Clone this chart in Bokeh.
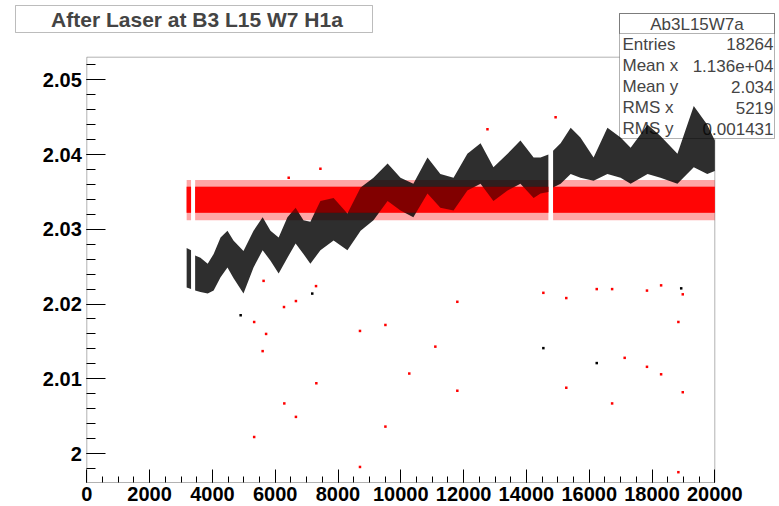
from bokeh.plotting import figure
from bokeh.models import Range1d, FixedTicker, BoxAnnotation, Label
from bokeh.embed import file_html
from bokeh.resources import INLINE

# ---------------- data ----------------
x_ticks = [0, 2000, 4000, 6000, 8000, 10000, 12000, 14000, 16000, 18000, 20000]
x_tick_labels = ["0", "2000", "4000", "6000", "8000", "10000", "12000", "14000",
                 "16000", "18000", "20000"]
y_ticks = [2.00, 2.01, 2.02, 2.03, 2.04, 2.05]
y_tick_labels = ["2", "2.01", "2.02", "2.03", "2.04", "2.05"]
x_axis_range = [0, 20000]
y_axis_range = [1.99612, 2.05303]

# gaps in the data taking (x ranges without entries)
gap_starts = [3330, 14720]
gap_ends = [3430, 14830]

# black series: envelope of the dense point cloud
black_x = [3180, 3320, 3450, 3620, 3850, 4040, 4260, 4480, 4670, 4990, 5310, 5600,
           5850, 6110, 6390, 6650, 6900, 7120, 7440, 7860, 8300, 8720, 9130, 9580,
           9990, 10400, 10850, 11260, 11680, 12120, 12540, 12950, 13400, 13810,
           14230, 14450, 14700, 14850, 15090, 15410, 15720, 16140, 16580, 17000,
           17320, 17860, 18270, 18810, 19330, 19760, 20000]
black_lo = [2.0222, 2.0220, 2.0218, 2.0216, 2.0214, 2.0218, 2.0236, 2.0249, 2.0235,
            2.0214, 2.0249, 2.0272, 2.0258, 2.0241, 2.0262, 2.0281, 2.0267, 2.0254,
            2.0272, 2.0285, 2.0272, 2.0298, 2.0312, 2.0338, 2.0325, 2.0316, 2.0348,
            2.0329, 2.0325, 2.0352, 2.0361, 2.0338, 2.0352, 2.0361, 2.0342, 2.0348,
            2.0350, 2.0356, 2.0361, 2.0374, 2.0369, 2.0365, 2.0374, 2.0369, 2.0361,
            2.0374, 2.0369, 2.0361, 2.0383, 2.0374, 2.0378]
black_hi = [2.0275, 2.0272, 2.0265, 2.0262, 2.0254, 2.0267, 2.0289, 2.0298, 2.0285,
            2.0271, 2.0298, 2.0316, 2.0298, 2.0289, 2.0316, 2.0329, 2.0312, 2.0310,
            2.0338, 2.0342, 2.0321, 2.0356, 2.0369, 2.0388, 2.0369, 2.0361, 2.0396,
            2.0374, 2.0369, 2.0401, 2.0415, 2.0383, 2.0401, 2.0419, 2.0396, 2.0396,
            2.0400, 2.0405, 2.0415, 2.0436, 2.0423, 2.0396, 2.0436, 2.0423, 2.0409,
            2.0440, 2.0425, 2.0401, 2.0465, 2.0440, 2.0419]

# red series: flat band
red_x = [3180, 3320, 3450, 8000, 14700, 14850, 20000]
red_core_lo = [2.0322, 2.0322, 2.0322, 2.0322, 2.0322, 2.0322, 2.0322]
red_core_hi = [2.0357, 2.0357, 2.0357, 2.0357, 2.0357, 2.0357, 2.0357]
red_fringe_lo = [2.0312, 2.0312, 2.0312, 2.0312, 2.0312, 2.0312, 2.0312]
red_fringe_hi = [2.0366, 2.0366, 2.0366, 2.0366, 2.0366, 2.0366, 2.0366]

# isolated red entries
red_out_x = [7300, 6280, 6660, 5330, 5710, 5600, 7310, 6290, 6660, 5330, 8700, 9510,
             9510, 8700, 10270, 11100, 11800, 11800, 14540, 15270, 15270, 16240,
             16730, 17840, 18290, 18980, 18840, 17130, 17840, 18290, 18980, 16730,
             18840, 5630, 12760, 14930, 7440, 6430]
red_out_y = [2.0224, 2.0196, 2.0204, 2.0176, 2.0160, 2.0137, 2.0094, 2.0067, 2.0049,
             2.0022, 2.0164, 2.0172, 2.0036, 1.9982, 2.0107, 2.0143, 2.0203, 2.0084,
             2.0215, 2.0208, 2.0088, 2.0220, 2.0220, 2.0218, 2.0225, 2.0213, 2.0176,
             2.0128, 2.0116, 2.0106, 2.0082, 2.0067, 1.9975, 2.0231, 2.0434, 2.0450,
             2.0381, 2.0369]
# isolated black entries
black_out_x = [14540, 16240, 18930, 4900, 7180]
black_out_y = [2.0141, 2.0121, 2.0221, 2.0185, 2.0214]

title_text = "After Laser at B3 L15 W7 H1a"
stats_title = "Ab3L15W7a"
stats_names = ["Entries", "Mean x", "Mean y", "RMS x", "RMS y"]
stats_values = ["18264", "1.136e+04", "2.034", "5219", "0.001431"]

# ---------------- layout ----------------
W, H = 779, 506
FL, FR, FT, FB = 86.3, 714.3, 56.7, 482.0   # ROOT frame edges, canvas pixels

# extend the ranges so that the bokeh frame covers the whole canvas
kx = (x_axis_range[1] - x_axis_range[0]) / (FR - FL)
ky = (y_axis_range[1] - y_axis_range[0]) / (FB - FT)
x_start = x_axis_range[0] - FL * kx
x_end = x_axis_range[1] + (W - FR) * kx
y_start = y_axis_range[0] - (H - FB) * ky
y_end = y_axis_range[1] + FT * ky


def split_at_gaps(xs, *cols):
    segs = []
    cur = [[] for _ in range(len(cols) + 1)]
    for i, xv in enumerate(xs):
        if cur[0]:
            prev = cur[0][-1]
            if any(prev <= g0 and xv >= g1 for g0, g1 in zip(gap_starts, gap_ends)):
                segs.append(cur)
                cur = [[] for _ in range(len(cols) + 1)]
        cur[0].append(xv)
        for k, c in enumerate(cols):
            cur[k + 1].append(c[i])
    if cur[0]:
        segs.append(cur)
    return segs


p = figure(width=W, height=H, output_backend="svg", toolbar_location=None,
           x_range=Range1d(x_start, x_end), y_range=Range1d(y_start, y_end),
           min_border=0)
p.background_fill_color = "white"
p.border_fill_color = "white"
p.outline_line_color = None
p.grid.visible = False

FONT = "Liberation Sans"

p.xaxis.ticker = FixedTicker(ticks=x_ticks, minor_ticks=list(range(0, 20001, 500)))
p.yaxis.ticker = FixedTicker(ticks=y_ticks,
                             minor_ticks=[round(2.0 + 0.002 * i, 4) for i in range(-1, 27)])
p.xaxis.major_label_overrides = {t: l for t, l in zip(x_ticks, x_tick_labels)}
p.yaxis.major_label_overrides = {t: l for t, l in zip(y_ticks, y_tick_labels)}
p.xaxis.fixed_location = y_axis_range[0]
p.yaxis.fixed_location = x_axis_range[0]
for ax in (p.xaxis, p.yaxis):
    ax.axis_line_color = None
    ax.major_tick_line_color = "black"
    ax.minor_tick_line_color = "black"
    ax.major_tick_out = 0
    ax.minor_tick_out = 0
    ax.major_label_text_font = FONT
    ax.major_label_text_font_style = "bold"
    ax.major_label_text_font_size = "20px"
    ax.major_label_text_color = "black"
p.xaxis.major_tick_in = 13
p.xaxis.minor_tick_in = 6
p.yaxis.major_tick_in = 19
p.yaxis.minor_tick_in = 9
p.xaxis.major_label_standoff = 4
p.yaxis.major_label_standoff = 5


def sx(px):
    return px


def sy(py):
    return H - py


def sbox(l, r, t, b, **kw):
    return BoxAnnotation(left=sx(l), right=sx(r), top=sy(t), bottom=sy(b),
                         left_units="screen", right_units="screen",
                         top_units="screen", bottom_units="screen", **kw)


# ROOT frame
p.add_layout(BoxAnnotation(left=x_axis_range[0], right=x_axis_range[1],
                           bottom=y_axis_range[0], top=y_axis_range[1],
                           fill_alpha=0, line_color="black", line_width=1,
                           level="underlay"))

# stats box (drawn beneath the data, as in the reference)
p.add_layout(sbox(619, 774, 13, 138, fill_color="white", fill_alpha=1,
                  line_color="black", line_width=1, level="underlay"))
p.add_layout(sbox(619, 774, 13, 33, fill_alpha=0, line_color="black",
                  line_width=1, level="underlay"))
p.add_layout(Label(x=sx(696.5), y=sy(23.5), x_units="screen", y_units="screen",
                   text=stats_title, text_font=FONT, text_font_size="17px",
                   text_align="center", text_baseline="middle", level="underlay"))
row_y = [43.5, 65, 86, 107, 128]
for name, val, ry in zip(stats_names, stats_values, row_y):
    p.add_layout(Label(x=sx(622), y=sy(ry), x_units="screen", y_units="screen",
                       text=name, text_font=FONT, text_font_size="17px",
                       text_align="left", text_baseline="middle", level="underlay"))
    p.add_layout(Label(x=sx(773), y=sy(ry), x_units="screen", y_units="screen",
                       text=val, text_font=FONT, text_font_size="17px",
                       text_align="right", text_baseline="middle", level="underlay"))

red_segs = split_at_gaps(red_x, red_fringe_lo, red_fringe_hi, red_core_lo, red_core_hi)
# red band
for xs, flo, fhi, clo, chi in red_segs:
    p.varea(x=xs, y1=flo, y2=fhi, fill_color="#ff0000", fill_alpha=0.35)
    p.varea(x=xs, y1=clo, y2=chi, fill_color="#ff0000", fill_alpha=0.95)

# black band
for xs, lo, hi in split_at_gaps(black_x, black_lo, black_hi):
    p.varea(x=xs, y1=lo, y2=hi, fill_color="black", fill_alpha=0.82)

# red entries mixed in on top of the black where the bands overlap
for xs, flo, fhi, clo, chi in red_segs:
    p.varea(x=xs, y1=clo, y2=chi, fill_color="#ff0000", fill_alpha=0.4)

p.scatter(red_out_x, red_out_y, marker="square", size=2.5, color="#ff0000",
          line_color=None)
p.scatter(black_out_x, black_out_y, marker="square", size=2.5, color="black",
          line_color=None)

# title box
p.add_layout(sbox(15, 372, 5, 32, fill_color="white", fill_alpha=1,
                  line_color="#222222", line_width=1))
p.add_layout(Label(x=sx(196.5), y=sy(18.5), x_units="screen", y_units="screen",
                   text=title_text, text_font=FONT, text_font_style="bold",
                   text_font_size="21px", text_align="center",
                   text_baseline="middle"))

open("out.html", "w").write(file_html(p, INLINE))
